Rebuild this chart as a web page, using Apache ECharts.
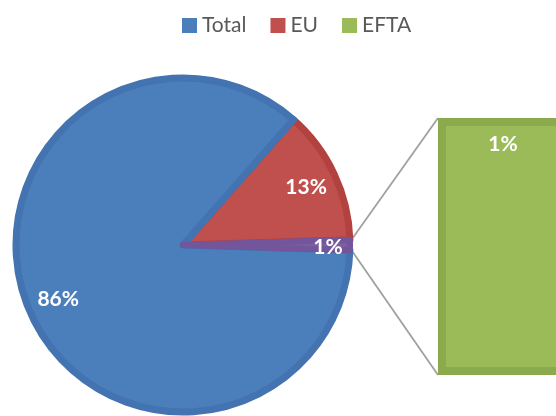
<!DOCTYPE html>
<html>
<head>
<meta charset="utf-8">
<script src="https://cdn.jsdelivr.net/npm/echarts@6/dist/echarts.min.js"></script>
<style>
html,body{margin:0;padding:0;background:#fff;}
#c{width:556px;height:416px;}
</style>
</head>
<body>
<div id="c"></div>
<script>
// Data
const categories = ['Total', 'EU', 'EFTA'];
const shares = [86, 13, 1];
const barValues = [1]; // EFTA breakdown shown in the bar

// Layout / style constants
const W = 556;
const CX = 183, CY = 245, R = 167;
const BAR_CENTER = 503, BAR_W = 130, BAR_TOP = 118, BAR_H = 257;
const BAR_LEFT = BAR_CENTER - BAR_W / 2;
const GRID_LEFT = 2 * BAR_CENTER - W;
const FONT = 'Lato';
const fill = { Total: '#4B7FBC', EU: '#C0504D', EFTA: '#9BBB59', Other: '#7D5FA0' };
const edge = { Total: '#4373B0', EU: '#B2423F', EFTA: '#8BAA4E', Other: '#72559A' };

const otherShare = shares[2];
const startAngle = otherShare / 100 * 360 / 2;

function pieData(ghost) {
  return [
    { name: 'EU', value: shares[1], fill: fill.EU, edge: edge.EU, bw: 7, off: [0, 0] },
    { name: 'Total', value: shares[0], fill: fill.Total, edge: edge.Total, bw: 7, off: [0, 0] },
    { name: 'EFTA', value: shares[2], fill: fill.Other, edge: edge.Other, bw: 6, off: [9, 2] }
  ].map(d => ({
    name: d.name,
    value: d.value,
    itemStyle: ghost ? { color: 'rgba(0,0,0,0)', borderWidth: 0 } :
      { color: d.fill, borderColor: d.edge, borderWidth: d.bw },
    label: ghost ? { offset: d.off } : undefined
  }));
}

// connector lines from the small slice to the bar
const a1 = startAngle * Math.PI / 180;
const RO = R + 3;
const p1 = [CX + RO * Math.cos(a1), CY - RO * Math.sin(a1) - 2];
const p2 = [CX + RO * Math.cos(a1), CY + RO * Math.sin(a1) + 2];
const barTopLeft = [BAR_LEFT, BAR_TOP];
const barBotLeft = [BAR_LEFT, BAR_TOP + BAR_H];

const chart = echarts.init(document.getElementById('c'), null, { renderer: 'canvas' });
chart.setOption({
  animation: false,
  backgroundColor: '#fff',
  legend: {
    left: 177, top: 10,
    itemWidth: 15, itemHeight: 15, itemGap: 24,
    icon: 'rect',
    textStyle: { fontFamily: FONT, fontSize: 21, color: '#595959' },
    data: [
      { name: 'Total', itemStyle: { color: fill.Total, borderWidth: 0 } },
      { name: 'EU', itemStyle: { color: fill.EU, borderWidth: 0 } },
      { name: 'EFTA', itemStyle: { color: fill.EFTA, borderWidth: 0 } }
    ]
  },
  grid: { left: GRID_LEFT, top: BAR_TOP, right: 0, height: BAR_H, containLabel: false },
  xAxis: { type: 'category', data: ['EFTA'], show: false },
  yAxis: { type: 'value', min: 0, max: barValues[0], show: false },
  graphic: [
    { type: 'line', z: 0, shape: { x1: p1[0], y1: p1[1], x2: barTopLeft[0], y2: barTopLeft[1] }, style: { stroke: '#A0A0A0', lineWidth: 1.8 } },
    { type: 'line', z: 0, shape: { x1: p2[0], y1: p2[1], x2: barBotLeft[0], y2: barBotLeft[1] }, style: { stroke: '#A0A0A0', lineWidth: 1.8 } }
  ],
  series: [
    {
      type: 'pie', name: 'pie',
      center: [CX, CY], radius: [0, R],
      startAngle: startAngle, clockwise: false,
      label: { show: false }, labelLine: { show: false },
      emphasis: { disabled: true },
      data: pieData(false)
    },
    {
      type: 'pie', name: 'pieLabels', silent: true,
      center: [CX, CY], radius: [100, R - 1],
      startAngle: startAngle, clockwise: false,
      avoidLabelOverlap: false,
      label: { show: true, position: 'inside', formatter: '{c}%', color: '#fff', fontFamily: FONT, fontWeight: 'bold', fontSize: 21 },
      labelLine: { show: false },
      emphasis: { disabled: true },
      data: pieData(true)
    },
    {
      type: 'bar', name: 'EFTA',
      barWidth: BAR_W,
      clip: false,
      data: barValues.map(v => ({ value: v })),
      itemStyle: { color: fill.EFTA, borderColor: edge.EFTA, borderWidth: 8 },
      label: { show: true, position: 'insideTop', distance: 16, formatter: '{c}%', color: '#fff', fontFamily: FONT, fontWeight: 'bold', fontSize: 21 },
      emphasis: { disabled: true }
    }
  ]
});
</script>
</body>
</html>
